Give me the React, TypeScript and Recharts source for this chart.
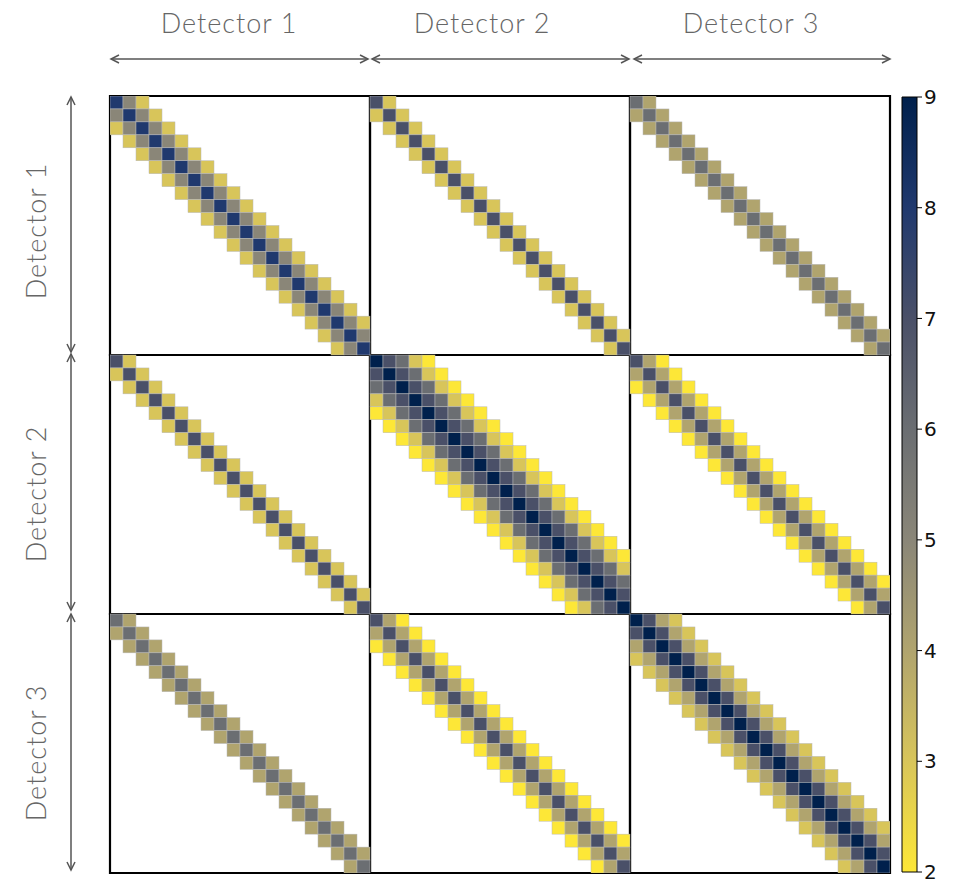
import React from 'react';
import { ScatterChart, Scatter, XAxis, YAxis, ReferenceArea, ComposedChart } from 'recharts';

// ---------- data ----------
const detectors = ['Detector 1', 'Detector 2', 'Detector 3'];
const gridSize = 20;
// value on each band of the covariance block, index = |row - col|
const band11 = [8, 5, 3];
const band12 = [7, 3];
const band13 = [6, 4];
const band21 = [7, 3];
const band22 = [9, 7, 6, 3, 2];
const band23 = [7, 4, 2];
const band31 = [6, 4];
const band32 = [7, 4, 2];
const band33 = [9, 7, 4, 3];
const colorTicks = [2, 3, 4, 5, 6, 7, 8, 9];
const colorLevels = [9, 8, 7, 6, 5, 4, 3, 2];
const levelColors = ['#00204c', '#20396e', '#4a5068', '#6b6e72', '#8a8678', '#b0a46e', '#d8c55a', '#fde737'];

// ---------- layout ----------
const W = 963;
const H = 880;
const PL = 110;
const PT = 96;
const PW = 780;
const PH = 777;
const N = gridSize * 3;
const CW = PW / N;
const CH = PH / N;

const hexToRgb = (h: string) => [parseInt(h.slice(1, 3), 16), parseInt(h.slice(3, 5), 16), parseInt(h.slice(5, 7), 16)];
const colorOf = (v: number) => {
  const lo = Math.max(2, Math.min(9, Math.floor(v)));
  const hi = Math.min(9, lo + 1);
  const t = v - lo;
  const a = hexToRgb(levelColors[colorLevels.indexOf(lo)]);
  const b = hexToRgb(levelColors[colorLevels.indexOf(hi)]);
  const c = a.map((x, i) => Math.round(x + (b[i] - x) * t));
  return `rgb(${c[0]},${c[1]},${c[2]})`;
};

const bands = [
  [band11, band12, band13],
  [band21, band22, band23],
  [band31, band32, band33],
];

type CellT = { x: number; y: number; v: number };
const cells: CellT[] = [];
bands.forEach((rowBands, pr) =>
  rowBands.forEach((band, pc) => {
    for (let r = 0; r < gridSize; r++) {
      for (let c = 0; c < gridSize; c++) {
        const d = Math.abs(r - c);
        if (d < band.length) {
          cells.push({ x: pc * gridSize + c + 0.5, y: pr * gridSize + r + 0.5, v: band[d] });
        }
      }
    }
  })
);

const panels: { x1: number; x2: number; y1: number; y2: number }[] = [];
for (let pr = 0; pr < 3; pr++)
  for (let pc = 0; pc < 3; pc++)
    panels.push({ x1: pc * gridSize, x2: (pc + 1) * gridSize, y1: pr * gridSize, y2: (pr + 1) * gridSize });

const CellShape = (props: any) => {
  const { cx, cy, payload } = props;
  if (cx == null || cy == null) return null;
  return (
    <rect
      x={cx - CW / 2}
      y={cy - CH / 2}
      width={CW}
      height={CH}
      fill={colorOf(payload.v)}
      stroke="#b8b8b8"
      strokeWidth={0.5}
    />
  );
};

const colorbarPts = [
  { x: 0, y: 2 },
  { x: 1, y: 9 },
];

const ARROW = '#555';
const HArrow = ({ x1, x2, y }: { x1: number; x2: number; y: number }) => (
  <g stroke={ARROW} strokeWidth={1.5} fill="none">
    <line x1={x1} y1={y} x2={x2} y2={y} />
    <path d={`M${x1 + 8},${y - 4} L${x1},${y} L${x1 + 8},${y + 4}`} />
    <path d={`M${x2 - 8},${y - 4} L${x2},${y} L${x2 - 8},${y + 4}`} />
  </g>
);
const VArrow = ({ y1, y2, x }: { y1: number; y2: number; x: number }) => (
  <g stroke={ARROW} strokeWidth={1.5} fill="none">
    <line x1={x} y1={y1} x2={x} y2={y2} />
    <path d={`M${x - 4},${y1 + 8} L${x},${y1} L${x + 4},${y1 + 8}`} />
    <path d={`M${x - 4},${y2 - 8} L${x},${y2} L${x + 4},${y2 - 8}`} />
  </g>
);

const colHeaderX = [229, 482, 751];
const rowHeaderY = [231, 494, 753];
const headFont = { fontSize: 27, fontFamily: 'Lato, sans-serif', fontWeight: 300, letterSpacing: 1 };

export default function App() {
  return (
    <div style={{ position: 'absolute', left: 0, top: 0, width: W, height: H, background: '#fff' }}>
      <div style={{ position: 'absolute', left: 0, top: 0 }}>
        <ScatterChart width={W} height={H} margin={{ top: PT, left: PL, right: W - PL - PW, bottom: H - PT - PH }}>
          <XAxis type="number" dataKey="x" domain={[0, N]} hide allowDataOverflow />
          <YAxis type="number" dataKey="y" domain={[0, N]} reversed hide allowDataOverflow />
          <Scatter data={cells} shape={<CellShape />} isAnimationActive={false} />
          {panels.map((p, i) => (
            <ReferenceArea
              key={i}
              x1={p.x1}
              x2={p.x2}
              y1={p.y1}
              y2={p.y2}
              fill="none"
              fillOpacity={0}
              stroke="#000"
              strokeWidth={2.2}
              ifOverflow="visible"
            />
          ))}
        </ScatterChart>
      </div>
      <div style={{ position: 'absolute', left: 0, top: 0 }}>
        <ComposedChart width={W} height={H} margin={{ top: 97, left: 902, right: 0, bottom: 8 }}>
          <defs>
            <linearGradient id="cbGrad" x1="0" y1="0" x2="0" y2="1">
              {colorLevels.map((v, i) => (
                <stop key={v} offset={`${((9 - v) / 7) * 100}%`} stopColor={levelColors[i]} />
              ))}
            </linearGradient>
          </defs>
          <XAxis type="number" dataKey="x" domain={[0, 1]} hide />
          <YAxis
            type="number"
            dataKey="y"
            orientation="right"
            domain={[2, 9]}
            ticks={colorTicks}
            width={46}
            axisLine={false}
            tickLine={{ stroke: '#000', strokeWidth: 1 }}
            tickSize={5}
            tick={{ fill: '#111', fontSize: 20, fontFamily: 'DejaVu Sans, sans-serif' }}
            interval={0}
          />
          <Scatter data={colorbarPts} fill="none" shape={() => null} isAnimationActive={false} />
          <ReferenceArea x1={0} x2={1} y1={2} y2={9} fill="url(#cbGrad)" fillOpacity={1} stroke="#000" strokeWidth={1} ifOverflow="visible" />
        </ComposedChart>
      </div>
      <svg width={W} height={H} style={{ position: 'absolute', left: 0, top: 0, pointerEvents: 'none' }}>
        {detectors.map((d, i) => (
          <text key={'c' + i} x={colHeaderX[i]} y={33} textAnchor="middle" fill="#666" {...headFont}>
            {d}
          </text>
        ))}
        {detectors.map((d, i) => (
          <text
            key={'r' + i}
            x={0}
            y={0}
            transform={`translate(46, ${rowHeaderY[i]}) rotate(-90)`}
            textAnchor="middle"
            fill="#666"
            {...headFont}
          >
            {d}
          </text>
        ))}
        <HArrow x1={111} x2={368} y={59} />
        <HArrow x1={372} x2={629} y={59} />
        <HArrow x1={634} x2={890} y={59} />
        <VArrow x={71} y1={97} y2={352} />
        <VArrow x={71} y1={354} y2={610} />
        <VArrow x={71} y1={614} y2={870} />
      </svg>
    </div>
  );
}
